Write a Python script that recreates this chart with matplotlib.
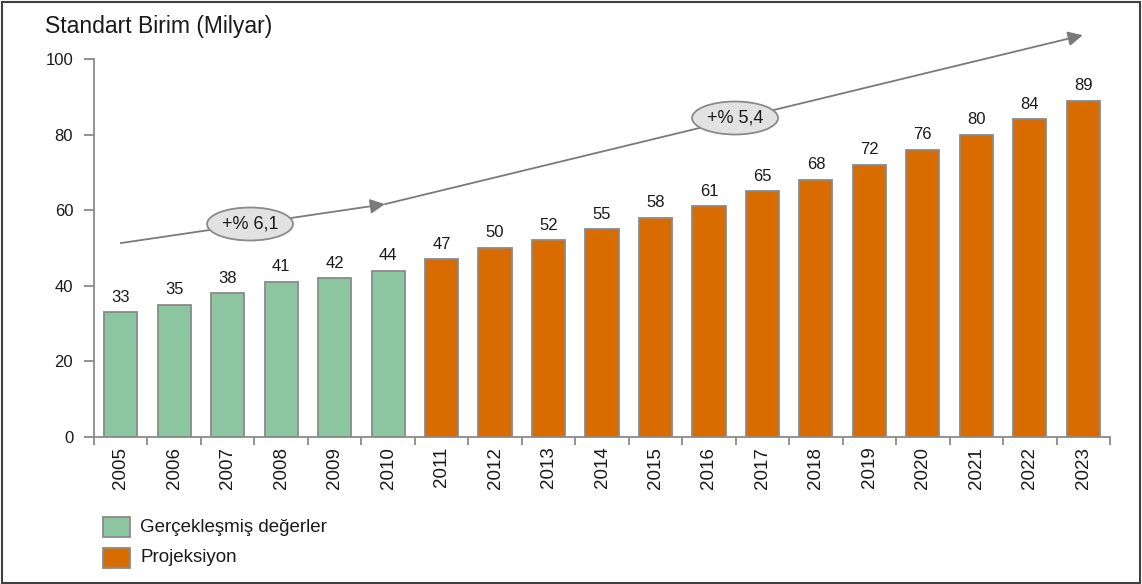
import numpy as np
import matplotlib.pyplot as plt
from matplotlib.patches import Rectangle, Ellipse, FancyArrowPatch

plt.rcParams['font.family'] = ['Liberation Sans', 'DejaVu Sans']

years = [str(y) for y in range(2005, 2024)]
values = [33, 35, 38, 41, 42, 44, 47, 50, 52, 55, 58, 61, 65, 68, 72, 76, 80, 84, 89]
n_actual = 6
legend_labels = ["Gerçekleşmiş değerler", "Projeksiyon"]
growth_labels = ["+% 6,1", "+% 5,4"]

green = "#8cc6a0"
orange = "#d96c00"
edge = "#8a8a8a"
txt = "#1a1a1a"

W, H = 1142, 584
fig = plt.figure(figsize=(W / 100, H / 100), dpi=100)
ax = fig.add_axes([94 / W, 1 - 437 / H, (1110 - 94) / W, (437 - 59) / H])

x = np.arange(len(years))
colors = [green if i < n_actual else orange for i in x]
ax.bar(x, values, width=0.62, color=colors, edgecolor=edge, linewidth=1.3, zorder=2)
for xi, v in zip(x, values):
    ax.text(xi, v + 2.0, str(v), ha='center', va='bottom', fontsize=12, color=txt)

ax.set_xlim(-0.5, len(years) - 0.5)
ax.set_ylim(0, 100)
ax.set_yticks(range(0, 101, 20))
ax.set_xticks(x)
ax.set_xticklabels(years, rotation=90, fontsize=13.5, color=txt)
ax.set_xticks(np.arange(-0.5, len(years)), minor=True)
ax.tick_params(axis='x', which='major', length=0, pad=7)
ax.tick_params(axis='x', which='minor', length=6, color=edge, width=1.3, direction='out')
ax.tick_params(axis='y', length=7, color=edge, width=1.3, labelsize=12, labelcolor=txt, pad=8)
for s in ['top', 'right']:
    ax.spines[s].set_visible(False)
for s in ['left', 'bottom']:
    ax.spines[s].set_color(edge)
    ax.spines[s].set_linewidth(1.3)

# growth trend arrows
pts = [(0.0, 51.3), (4.94, 61.6), (17.99, 106.3)]
for (x0, y0), (x1, y1) in zip(pts[:-1], pts[1:]):
    arr = FancyArrowPatch((x0, y0), (x1, y1), arrowstyle='-|>', mutation_scale=22,
                          shrinkA=0, shrinkB=0, color='#7a7a7a', linewidth=1.3,
                          clip_on=False, zorder=3)
    ax.add_patch(arr)


def px_to_data(px, py):
    return (px - 94) / 53.47 - 0.5, (437 - py) / 3.78


for (cx, cy), lab in zip([(250, 224), (735, 118)], growth_labels):
    dx, dy = px_to_data(cx, cy)
    e = Ellipse((dx, dy), width=86 / 53.47, height=33 / 3.78, facecolor='#e2e2e2',
                edgecolor='#8a8a8a', linewidth=1.3, zorder=4, clip_on=False)
    ax.add_patch(e)
    ax.text(dx, dy, lab, ha='center', va='center', fontsize=13, color=txt, zorder=5)

fig.text(45 / W, 1 - 26 / H, "Standart Birim (Milyar)", fontsize=16.5, color=txt,
         va='center', ha='left')

# legend
for i, (lab, c) in enumerate(zip(legend_labels, [green, orange])):
    y0 = 517 + i * 31
    fig.patches.append(Rectangle((103 / W, 1 - (y0 + 20) / H), 27 / W, 20 / H,
                                 transform=fig.transFigure, facecolor=c, edgecolor=edge,
                                 linewidth=1.3))
    fig.text(140 / W, 1 - (y0 + 10) / H, lab, fontsize=13.5, color=txt, va='center', ha='left')

# outer frame
fig.patches.append(Rectangle((2 / W, 1 / H), (W - 4) / W, (H - 3) / H, transform=fig.transFigure,
                             fill=False, edgecolor='#404040', linewidth=1.5))

fig.savefig('out.png', dpi=100)
